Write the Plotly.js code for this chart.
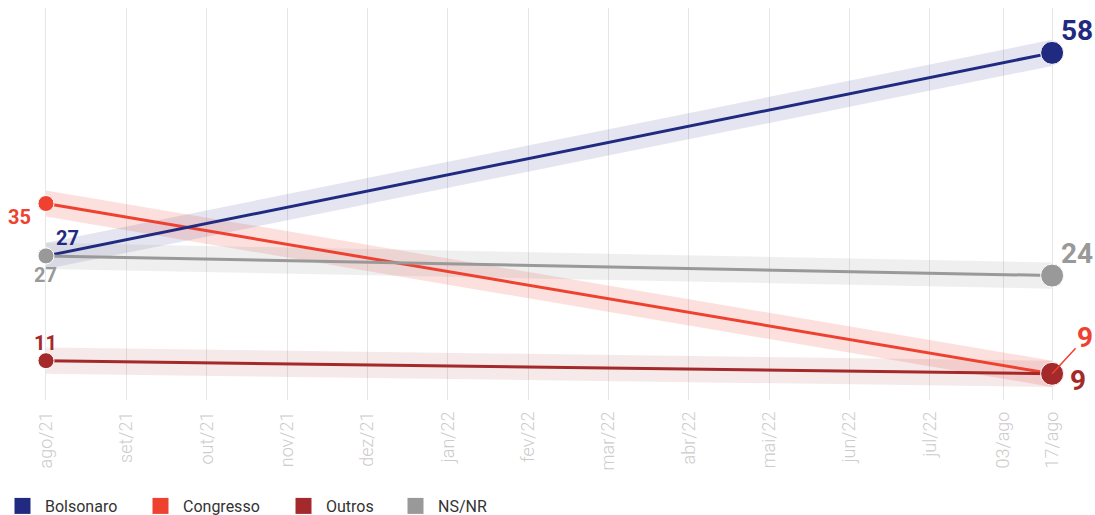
<!DOCTYPE html>
<html>
<head>
<meta charset="utf-8">
<script src="https://cdn.plot.ly/plotly-3.0.1.min.js"></script>
<style>html,body{margin:0;padding:0;background:#fff;}#chart{width:1095px;height:515px;}</style>
</head>
<body>
<div id="chart"></div>
<script>
// Tick labels and their positions on the month-index axis
const tickLabels = ["ago/21","set/21","out/21","nov/21","dez/21","jan/22","fev/22","mar/22","abr/22","mai/22","jun/22","jul/22","03/ago","17/ago"];
const tickPos = [0,1,2,3,4,5,6,7,8,9,10,11,11.91,12.52];

// Survey points: first (ago/21) and last (17/ago)
const surveyX = [0, 12.52];
const seriesNames = ["Bolsonaro","Congresso","Outros","NS/NR"];
const bolsonaro = [27, 58];
const congresso = [35, 9];
const outros = [11, 9];
const nsnr = [27, 24];
const marginError = 2;

const colors = {"Bolsonaro":"#1f2a80","Congresso":"#ef4130","Outros":"#a4292b","NS/NR":"#999999"};
const bandColors = {"Bolsonaro":"rgba(31,42,128,0.12)","Congresso":"rgba(239,65,48,0.16)","Outros":"rgba(164,41,43,0.10)","NS/NR":"rgba(150,150,150,0.15)"};
const values = {"Bolsonaro":bolsonaro,"Congresso":congresso,"Outros":outros,"NS/NR":nsnr};

const traces = [];
// bands
seriesNames.forEach(n => {
  const v = values[n];
  traces.push({
    x: [surveyX[0], surveyX[1], surveyX[1], surveyX[0]],
    y: [v[0]+marginError, v[1]+marginError, v[1]-marginError, v[0]-marginError],
    fill: 'toself', fillcolor: bandColors[n], line: {width: 0}, mode: 'lines',
    hoverinfo: 'skip', showlegend: false
  });
});
// lines
["Congresso","Outros","Bolsonaro","NS/NR"].forEach(n => {
  traces.push({
    x: surveyX, y: values[n], mode: 'lines+markers', name: n,
    line: {color: colors[n], width: 3},
    marker: {color: colors[n], size: [16, 23], opacity: 1},
    showlegend: false
  });
});
// legend entries
const legendX = [0, 138, 281, 393];
seriesNames.forEach((n, i) => {
  traces.push({
    x: [null], y: [null], mode: 'markers', name: n,
    marker: {symbol: 'square', size: 16, color: colors[n]},
    legend: i === 0 ? 'legend' : 'legend' + (i+1), showlegend: true
  });
});

const ann = (x, y, text, color, size, xs, ys, extra) => Object.assign({
  x: x, y: y, text: text, showarrow: false, xshift: xs, yshift: ys,
  font: {family: 'Roboto', size: size, color: color}
}, extra || {});

const annotations = [
  ann(surveyX[0], congresso[0], '<b>' + congresso[0] + '</b>', colors["Congresso"], 20, -26, -13),
  ann(surveyX[0], bolsonaro[0], '<b>' + bolsonaro[0] + '</b>', colors["Bolsonaro"], 20, 22, 18),
  ann(surveyX[0], nsnr[0], '<b>' + nsnr[0] + '</b>', colors["NS/NR"], 20, 0, -19),
  ann(surveyX[0], outros[0], '<b>' + outros[0] + '</b>', colors["Outros"], 20, 0, 18),
  ann(surveyX[1], bolsonaro[1], '<b>' + bolsonaro[1] + '</b>', colors["Bolsonaro"], 28, 25, 22),
  ann(surveyX[1], nsnr[1], '<b>' + nsnr[1] + '</b>', colors["NS/NR"], 28, 25, 22),
  ann(surveyX[1], outros[1], '<b>' + outros[1] + '</b>', colors["Outros"], 28, 26, -7),
  {x: surveyX[1], y: congresso[1], text: '<b>' + congresso[1] + '</b>', showarrow: true,
   ax: 33, ay: -36, arrowhead: 0, arrowwidth: 1.5, arrowcolor: colors["Congresso"], standoff: 0, startstandoff: 0,
   font: {family: 'Roboto', size: 28, color: colors["Congresso"]}}
];

const legendBase = {orientation: 'h', xref: 'container', yref: 'container', yanchor: 'middle', y: 9/515,
  itemwidth: 35,
  font: {family: 'Roboto', size: 16, color: '#333'}, bgcolor: 'rgba(0,0,0,0)'};

const layout = {
  width: 1095, height: 515,
  margin: {l: 30, r: 20, t: 8, b: 115},
  paper_bgcolor: '#fff', plot_bgcolor: '#fff',
  font: {family: 'Roboto'},
  xaxis: {range: [-0.199, 12.805], tickvals: tickPos, ticktext: tickLabels, tickangle: -90,
    showgrid: true, gridcolor: '#e6e6e6', gridwidth: 1, zeroline: false, showline: false, ticks: '',
    ticklabelstandoff: 7,
    tickfont: {family: 'Roboto', size: 18, weight: 300, color: '#cccccc'}, fixedrange: true},
  yaxis: {range: [5.0, 64.85], visible: false, fixedrange: true},
  annotations: annotations,
  showlegend: true,
  legend: Object.assign({}, legendBase, {x: legendX[0]/1095}),
  legend2: Object.assign({}, legendBase, {x: legendX[1]/1095}),
  legend3: Object.assign({}, legendBase, {x: legendX[2]/1095}),
  legend4: Object.assign({}, legendBase, {x: legendX[3]/1095})
};

Plotly.newPlot('chart', traces, layout, {displayModeBar: false, staticPlot: true});
</script>
</body>
</html>
